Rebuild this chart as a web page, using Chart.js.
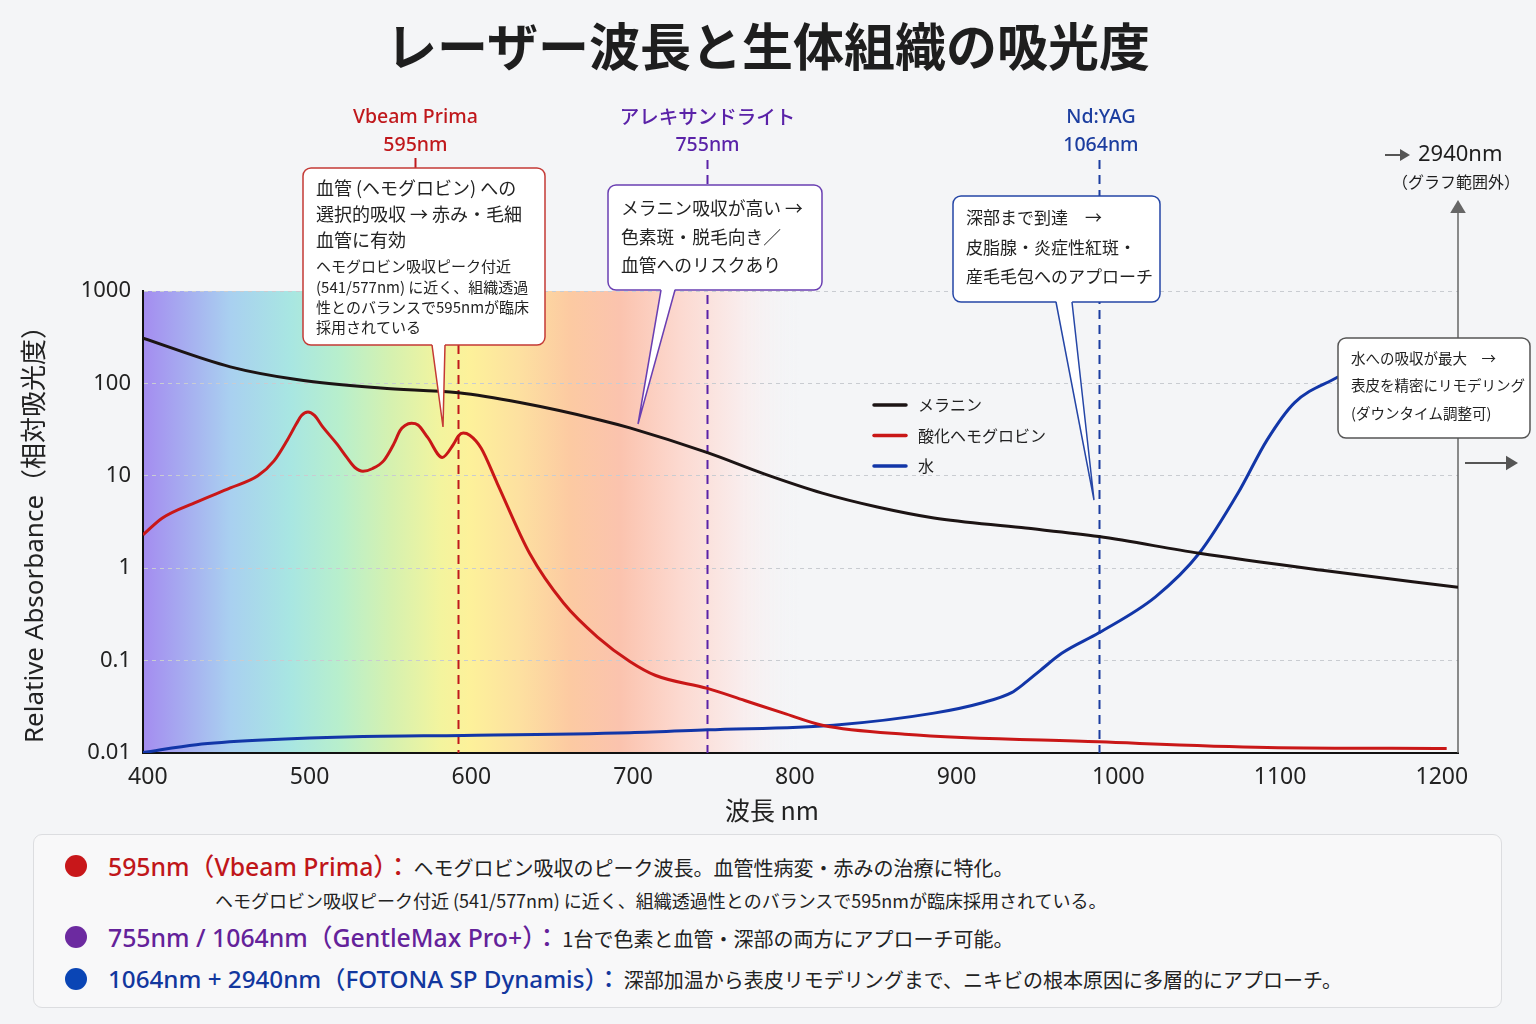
<!DOCTYPE html>
<html lang="ja">
<head>
<meta charset="utf-8">
<title>レーザー波長と生体組織の吸光度</title>
<script src="https://cdn.jsdelivr.net/npm/chart.js@4.4.1/dist/chart.umd.min.js"></script>
<style>
  html, body { margin: 0; padding: 0; }
  body {
    width: 1536px; height: 1024px; position: relative; overflow: hidden;
    background: #f4f5f7; color: #222;
    font-family: "Noto Sans", "Noto Sans CJK JP", sans-serif;
  }
  #title {
    position: absolute; left: 0; top: 17px; width: 1536px; text-align: center;
    font-family: "Noto Sans CJK JP", sans-serif; font-weight: 700;
    font-size: 51px; line-height: 54px; color: #1e1e1e;
  }
  #wrap { position: absolute; left: 0; top: 0; width: 1536px; height: 830px; }
  #panel {
    position: absolute; left: 33px; top: 834px; width: 1467px; height: 172px;
    background: #f8f8f9; border: 1.5px solid #dcdde0; border-radius: 9px;
  }
  .row { position: absolute; white-space: nowrap; line-height: 30px; height: 30px; }
  .dot { position: absolute; width: 22px; height: 22px; border-radius: 50%; }
  .h { font-size: 24.8px; font-weight: 500; }
  .b { font-size: 20px; color: #222; font-family: "Noto Sans CJK JP", sans-serif; margin-left: 3px; }
  .s { font-size: 18px; color: #222; font-family: "Noto Sans CJK JP", sans-serif; }
</style>
</head>
<body>
<div id="title">レーザー波長と生体組織の吸光度</div>
<div id="wrap"><canvas id="absChart" width="1536" height="830"></canvas></div>

<div id="panel"></div>
<div class="dot" style="left:65px; top:855px; background:#c8171a;"></div>
<div class="row" style="left:108px; top:851px;">
  <span class="h" style="color:#c0161a;">595nm（Vbeam Prima）：</span><span class="b">ヘモグロビン吸収のピーク波長。血管性病変・赤みの治療に特化。</span>
</div>
<div class="row" style="left:215px; top:885px;">
  <span class="s">ヘモグロビン吸収ピーク付近 (541/577nm) に近く、組織透過性とのバランスで595nmが臨床採用されている。</span>
</div>
<div class="dot" style="left:65px; top:926px; background:#6c2aa0;"></div>
<div class="row" style="left:108px; top:922px;">
  <span class="h" style="color:#64229a;">755nm / 1064nm（GentleMax Pro+）：</span><span class="b">1台で色素と血管・深部の両方にアプローチ可能。</span>
</div>
<div class="dot" style="left:65px; top:968px; background:#0a45b5;"></div>
<div class="row" style="left:108px; top:964px;">
  <span class="h" style="color:#12379e; font-size:24.2px;">1064nm + 2940nm（FOTONA SP Dynamis）：</span><span class="b">深部加温から表皮リモデリングまで、ニキビの根本原因に多層的にアプローチ。</span>
</div>

<script>
'use strict';

// 波長 (nm) と相対吸光度
const melaninNm  = [397, 451, 492, 544, 592, 630, 680, 698, 746, 781, 817, 851, 886, 940, 988, 1050, 1126, 1210];
const melaninAbs = [309, 151, 110, 89, 79, 62, 40, 33, 17.8, 10.5, 6.5, 4.6, 3.5, 2.75, 2.2, 1.45, 0.95, 0.62];

const hbNm  = [397, 409, 430, 451, 468, 478, 486, 492, 495, 499, 503, 508, 517, 523, 528, 533, 539, 546, 552, 556, 559, 563, 567, 573, 582, 589, 592, 595, 599, 606, 616, 636, 657, 678, 698, 714, 746, 769, 793, 817, 868, 988, 1092, 1203];
const hbAbs = [2.3, 3.5, 5.2, 7.4, 10, 14.5, 24, 37, 45, 49, 45, 34, 22, 15.8, 12.3, 11.2, 12, 14.7, 22, 31, 35, 37, 35.5, 26, 15.8, 22, 27, 29, 27.5, 20, 8.3, 1.45, 0.42, 0.18, 0.098, 0.069, 0.050, 0.037, 0.027, 0.020, 0.016, 0.0132, 0.0115, 0.0112];

const waterNm  = [397, 430, 471, 533, 595, 698, 746, 824, 886, 916, 934, 941, 952, 965, 988, 1023, 1050, 1074, 1092, 1109, 1136];
const waterAbs = [0.0101, 0.0123, 0.0138, 0.0151, 0.0155, 0.0166, 0.0178, 0.020, 0.027, 0.035, 0.045, 0.055, 0.079, 0.12, 0.20, 0.49, 1.45, 6.5, 24.5, 62, 118];

const seriesNames = ['メラニン', '酸化ヘモグロビン', '水'];

const xTicks = [400, 500, 600, 700, 800, 900, 1000, 1100, 1200];
const yTicks = [0.01, 0.1, 1, 10, 100, 1000];
const yTickLabels = ['0.01', '0.1', '1', '10', '100', '1000'];

// レーザー波長ライン (図上の位置)
const laserNm = [592, 746, 988];
const laserNames = ['Vbeam Prima', 'アレキサンドライト', 'Nd:YAG'];
const laserWaves = ['595nm', '755nm', '1064nm'];

const LATIN = '"Noto Sans", "Noto Sans CJK JP", sans-serif';
const JP = '"Noto Sans CJK JP", "Noto Sans", sans-serif';

const lineColors = ['#1c1414', '#c91717', '#1236a8'];
const laserColors = ['#c0181c', '#5a22a8', '#1b3d9f'];

// 可視光スペクトルの背景
const spectrumStops = [
    [397, '#a48cf0'], [451, '#a9d0f0'], [488, '#a8e6e2'], [519, '#b8efcc'],
    [550, '#d5f1b0'], [581, '#f3f49e'], [599, '#fdf19a'], [630, '#fde0a0'],
    [661, '#fccaa2'], [692, '#fbc3ae'], [729, '#fcd9d0'], [766, '#f9ecec'],
    [803, 'rgba(244,245,247,0)']
];

const callouts = [
    { x: 303, y: 168, w: 242, h: 177, color: '#c43a36', tail: [432, 445, 443, 427],
      lines: [
          ['血管 (ヘモグロビン) への', 188, 18], ['選択的吸収 → 赤み・毛細', 214, 18], ['血管に有効', 240, 18],
          ['ヘモグロビン吸収ピーク付近', 266, 15], ['(541/577nm) に近く、組織透過', 287, 15],
          ['性とのバランスで595nmが臨床', 307, 15], ['採用されている', 327, 15]
      ] },
    { x: 608, y: 185, w: 214, h: 105, color: '#6a3fb2', tail: [661, 675, 638, 424],
      lines: [['メラニン吸収が高い →', 208, 17.8], ['色素斑・脱毛向き／', 237, 17.8], ['血管へのリスクあり', 265, 17.8]] },
    { x: 953, y: 196, w: 207, h: 106, color: '#2546a6', tail: [1056, 1072, 1094, 500],
      lines: [['深部まで到達　→', 218, 17], ['皮脂腺・炎症性紅斑・', 248, 17], ['産毛毛包へのアプローチ', 277, 17]] },
    { x: 1338, y: 338, w: 192, h: 100, color: '#555', tail: null,
      lines: [['水への吸収が最大　→', 358, 14.5], ['表皮を精密にリモデリング', 385, 14.5], ['(ダウンタイム調整可)', 413, 14.5]] }
];

function drawCallout(ctx, b) {
    ctx.save();
    ctx.beginPath();
    ctx.roundRect(b.x, b.y, b.w, b.h, 8);
    ctx.fillStyle = '#ffffff';
    ctx.fill();
    ctx.lineWidth = 1.5;
    ctx.strokeStyle = b.color;
    ctx.stroke();
    if (b.tail) {
        const [x1, x2, tx, ty] = b.tail;
        const by = b.y + b.h;
        ctx.beginPath();
        ctx.moveTo(x1, by - 1.5);
        ctx.lineTo(tx, ty);
        ctx.lineTo(x2, by - 1.5);
        ctx.closePath();
        ctx.fill();
        ctx.beginPath();
        ctx.moveTo(x1, by);
        ctx.lineTo(tx, ty);
        ctx.lineTo(x2, by);
        ctx.stroke();
    }
    ctx.fillStyle = '#222';
    ctx.textAlign = 'left';
    ctx.textBaseline = 'middle';
    b.lines.forEach(([t, y, size]) => {
        ctx.font = size + 'px ' + JP;
        ctx.fillText(t, b.x + 13, y);
    });
    ctx.restore();
}

function arrowHead(ctx, x, y, dir, size) {
    ctx.beginPath();
    if (dir === 'up') {
        ctx.moveTo(x, y); ctx.lineTo(x - size * 0.6, y + size); ctx.lineTo(x + size * 0.6, y + size);
    } else {
        ctx.moveTo(x, y); ctx.lineTo(x - size, y - size * 0.6); ctx.lineTo(x - size, y + size * 0.6);
    }
    ctx.closePath();
    ctx.fill();
}

const overlayPlugin = {
    id: 'overlay',
    beforeDraw(chart) {
        const { ctx, chartArea: a, scales: { x } } = chart;
        const g = ctx.createLinearGradient(a.left, 0, a.right, 0);
        spectrumStops.forEach(([nm, c]) => {
            const t = (x.getPixelForValue(nm) - a.left) / (a.right - a.left);
            g.addColorStop(Math.min(1, Math.max(0, t)), c);
        });
        g.addColorStop(1, 'rgba(244,245,247,0)');
        ctx.save();
        ctx.fillStyle = g;
        ctx.fillRect(a.left, a.top, a.right - a.left, a.bottom - a.top);
        ctx.restore();
    },
    beforeDatasetsDraw(chart) {
        const { ctx, chartArea: a, scales: { x } } = chart;
        ctx.save();
        // 右端 (グラフ範囲外への矢印)
        ctx.strokeStyle = '#666';
        ctx.fillStyle = '#666';
        ctx.lineWidth = 1.5;
        ctx.beginPath();
        ctx.moveTo(a.right, 212);
        ctx.lineTo(a.right, a.bottom);
        ctx.stroke();
        arrowHead(ctx, a.right, 200, 'up', 13);

        laserNm.forEach((nm, i) => {
            const px = Math.round(x.getPixelForValue(nm)) + 0.5;
            ctx.strokeStyle = laserColors[i];
            ctx.lineWidth = 2;
            ctx.setLineDash([9, 6]);
            ctx.beginPath();
            ctx.moveTo(px, i === 0 ? 345 : 160);
            ctx.lineTo(px, a.bottom);
            ctx.stroke();
        });
        ctx.restore();
    },
    afterDatasetsDraw(chart) {
        const { ctx, scales: { x } } = chart;
        ctx.save();

        // レーザー名ラベル
        const labelShift = [-43, 0, 2];
        laserNm.forEach((nm, i) => {
            const cx = x.getPixelForValue(nm) + labelShift[i];
            ctx.fillStyle = laserColors[i];
            ctx.textAlign = 'center';
            ctx.textBaseline = 'middle';
            ctx.font = '500 19.5px ' + (i === 1 ? JP : LATIN);
            ctx.fillText(laserNames[i], cx, 117);
            ctx.font = '500 19.5px ' + LATIN;
            ctx.fillText(laserWaves[i], cx, 145);
        });
        // Vbeam ラベルから吹き出しへの短い線
        ctx.strokeStyle = laserColors[0];
        ctx.lineWidth = 2;
        ctx.beginPath();
        ctx.moveTo(415.5, 158);
        ctx.lineTo(415.5, 168);
        ctx.stroke();

        // 凡例
        chart.data.datasets.forEach((ds, i) => {
            const ly = 405 + i * 30.5;
            ctx.strokeStyle = ds.borderColor;
            ctx.lineWidth = 3.5;
            ctx.lineCap = 'round';
            ctx.beginPath();
            ctx.moveTo(874, ly);
            ctx.lineTo(906, ly);
            ctx.stroke();
            ctx.fillStyle = '#222';
            ctx.font = '16px ' + JP;
            ctx.textAlign = 'left';
            ctx.textBaseline = 'middle';
            ctx.fillText(ds.label, 918, ly);
        });
        ctx.lineCap = 'butt';

        callouts.forEach(b => drawCallout(ctx, b));

        // 2940nm (グラフ範囲外)
        ctx.fillStyle = '#555';
        ctx.strokeStyle = '#555';
        ctx.lineWidth = 2;
        ctx.beginPath();
        ctx.moveTo(1385, 155);
        ctx.lineTo(1401, 155);
        ctx.stroke();
        arrowHead(ctx, 1410, 155, 'right', 10);
        ctx.fillStyle = '#1e1e1e';
        ctx.font = '22px ' + LATIN;
        ctx.textAlign = 'left';
        ctx.textBaseline = 'middle';
        ctx.fillText('2940nm', 1418, 155);
        ctx.font = '16px ' + JP;
        ctx.textAlign = 'center';
        ctx.fillText('（グラフ範囲外）', 1456, 182);

        // 右向き矢印
        ctx.fillStyle = '#555';
        ctx.strokeStyle = '#555';
        ctx.beginPath();
        ctx.moveTo(1465, 463);
        ctx.lineTo(1506, 463);
        ctx.stroke();
        arrowHead(ctx, 1518, 463, 'right', 12);

        // 軸タイトル
        ctx.fillStyle = '#222';
        ctx.textAlign = 'center';
        ctx.textBaseline = 'middle';
        ctx.font = '25px ' + JP;
        ctx.fillText('波長 nm', 772, 810);
        ctx.translate(36, 528);
        ctx.rotate(-Math.PI / 2);
        ctx.font = '26px ' + LATIN;
        ctx.fillText('Relative Absorbance（相対吸光度）', 0, 0);
        ctx.restore();
    }
};

function toPoints(xs, ys) {
    return xs.map((v, i) => ({ x: v, y: ys[i] }));
}

function drawAbsorbanceChart() {
    const canvas = document.getElementById('absChart');
    const ctx = canvas.getContext('2d');
    const tickFont = { family: LATIN, size: 22 };

    new Chart(ctx, {
        type: 'line',
        data: {
            datasets: [
                { label: seriesNames[0], data: toPoints(melaninNm, melaninAbs) },
                { label: seriesNames[1], data: toPoints(hbNm, hbAbs) },
                { label: seriesNames[2], data: toPoints(waterNm, waterAbs) }
            ].map((ds, i) => Object.assign(ds, {
                borderColor: lineColors[i],
                borderWidth: 3,
                pointRadius: 0,
                fill: false,
                cubicInterpolationMode: 'monotone'
            }))
        },
        options: {
            responsive: false,
            animation: false,
            devicePixelRatio: 1,
            layout: { padding: { top: 291, right: 78, left: 0, bottom: 0 } },
            scales: {
                x: {
                    type: 'linear',
                    min: 397,
                    max: 1210,
                    afterBuildTicks: s => { s.ticks = xTicks.map(v => ({ value: v })); },
                    afterFit: s => { s.height = 77; },
                    ticks: {
                        font: { family: LATIN, size: 23 },
                        color: '#222',
                        padding: 11,
                        maxRotation: 0,
                        autoSkip: false,
                        callback: v => String(v)
                    },
                    grid: { display: false, drawTicks: false },
                    border: { color: '#111', width: 2 }
                },
                y: {
                    type: 'logarithmic',
                    min: 0.01,
                    max: 1000,
                    afterBuildTicks: s => { s.ticks = yTicks.map(v => ({ value: v })); },
                    afterFit: s => { s.width = 143; },
                    ticks: {
                        font: tickFont,
                        color: '#222',
                        padding: 12,
                        callback: v => {
                            const k = yTicks.findIndex(t => Math.abs(Math.log10(t) - Math.log10(v)) < 1e-6);
                            return k >= 0 ? yTickLabels[k] : '';
                        }
                    },
                    grid: { color: '#c9ccd1', lineWidth: 1, drawTicks: false },
                    border: { color: '#111', width: 2, dash: [4, 4] }
                }
            },
            plugins: {
                legend: { display: false },
                tooltip: { enabled: false }
            }
        },
        plugins: [overlayPlugin]
    });
}

drawAbsorbanceChart();
</script>
</body>
</html>
